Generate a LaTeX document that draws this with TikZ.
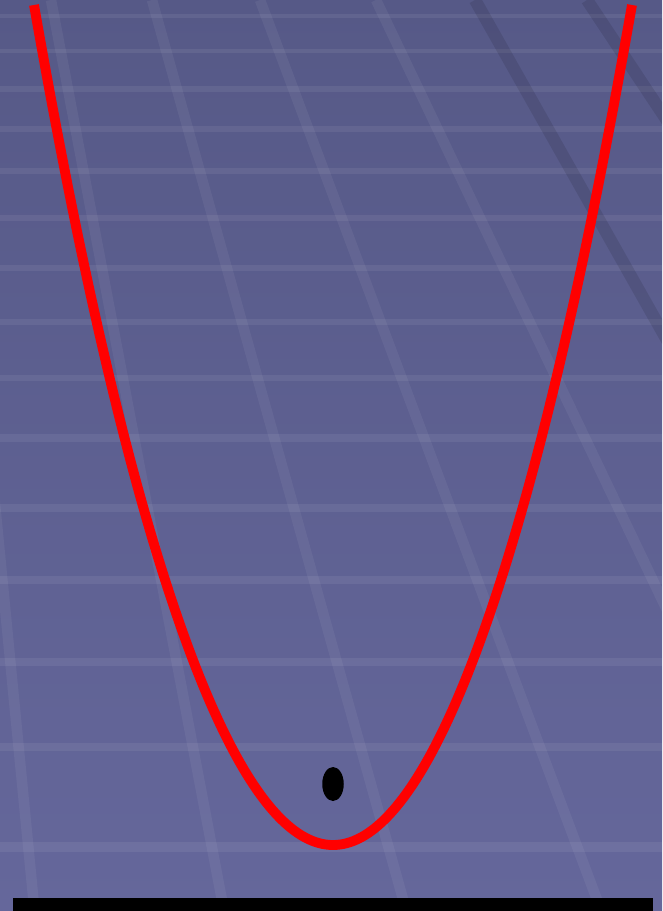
\documentclass[tikz,border=0pt]{standalone}
\usetikzlibrary{shapes.geometric}
\definecolor{bgtop}{HTML}{565987}
\definecolor{bgbot}{HTML}{65679B}
\definecolor{trackred}{HTML}{FF0000}

\begin{document}
\begin{tikzpicture}[
    x=0.02cm, y=-0.02cm,
    rung/.style={white, opacity=0.065},
    rail/.style={white, opacity=0.055, line width=6pt},
    darkrail/.style={black, opacity=0.10, line width=7pt},
    track/.style={trackred, line width=5.6pt},
    ball/.style={ellipse, fill=black, inner sep=0pt,
        minimum width=0.43cm, minimum height=0.68cm},
    ground/.style={fill=black},
]
\useasboundingbox (0,0) rectangle (662,911);

% ================================================================ floor grid
\shade[top color=bgtop, bottom color=bgbot] (0,0) rectangle (662,911);
\begin{scope}
\clip (0,0) rectangle (662,911);
\foreach \y/\w in {16/2.8, 51/2.8, 89/3.0, 129/3.0, 171/3.2, 218/3.4,
    268/3.4, 322/3.6, 378/3.8, 438/4.0, 508/4.2, 580/4.5, 662/4.8,
    747/5.0, 847/5.4}{
    \draw[rung, line width=\w pt] (0,\y) -- (662,\y);
}
% lines run to a vanishing point up and to the left
\foreach \xt in {-54, 51, 152, 260, 376}{
    \draw[rail] (\xt,0) -- ({\xt+(\xt+164)*0.8048},911);
}
\foreach \xt in {475, 587}{
    \draw[darkrail] (\xt,0) -- ({\xt+(\xt+164)*0.8048},911);
}
\end{scope}

% ================================================================ track and ball
\coordinate (lefttop) at (34,5);
\coordinate (bend) at (333,845);
\coordinate (righttop) at (632,5);
\draw[track] (lefttop) parabola bend (bend) (righttop);

\node[ball] (ball) at (333,784) {};

% ================================================================ ground
\fill[ground] (13,898) rectangle (653,911);

\end{tikzpicture}
\end{document}
